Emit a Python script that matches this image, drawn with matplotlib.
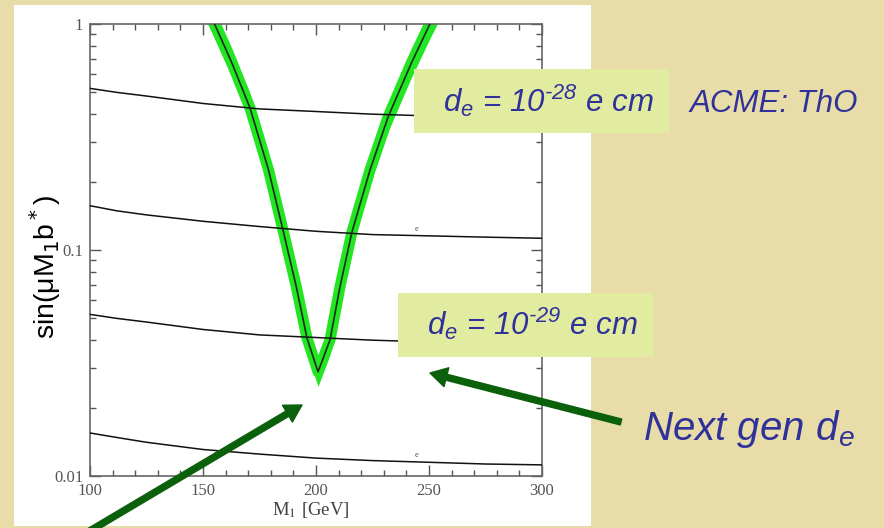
import matplotlib
matplotlib.use("Agg")
import matplotlib.pyplot as plt
from matplotlib.patches import Rectangle, FancyArrowPatch
from matplotlib.ticker import FixedLocator, MultipleLocator, NullFormatter
import numpy as np

plt.rcParams['mathtext.fontset'] = 'custom'
plt.rcParams['mathtext.rm'] = 'Liberation Sans:italic'
plt.rcParams['mathtext.it'] = 'Liberation Sans:italic'

# contour lines of constant d_e
m_grid = [100, 112, 125, 150, 175, 200, 225, 250, 275, 300]
line_a = [0.519, 0.498, 0.480, 0.445, 0.421, 0.410, 0.399, 0.392, 0.387, 0.383]
line_b = [0.157, 0.149, 0.143, 0.134, 0.127, 0.121, 0.117, 0.1155, 0.114, 0.1127]
line_c = [0.0519, 0.0498, 0.0480, 0.0445, 0.0421, 0.0410, 0.0399, 0.0392, 0.0387, 0.0383]
line_d = [0.0155, 0.0148, 0.0141, 0.0131, 0.0125, 0.0120, 0.0117, 0.0115, 0.0113, 0.0112]

# green V band (centre line)
band_m = [152.2, 155.3, 162.8, 170.8, 179.0, 185.4, 191.3, 196.0, 200.9,
          206.2, 210.6, 215.9, 223.9, 231.9, 242.2, 250.4, 253.5]
band_v = [1.153, 0.99, 0.672, 0.425, 0.226, 0.1225, 0.0686, 0.0408, 0.0289,
          0.040, 0.0686, 0.120, 0.226, 0.388, 0.672, 1.0, 1.153]
band_factor = 1.16

x_ticks = [100, 150, 200, 250, 300]
y_ticks = [0.01, 0.1, 1]
y_ticklabels = ['0.01', '0.1', '1']

BG = '#E8DDA8'
BOX = '#E1ECA0'
BLUE = '#30329A'
ARROW = '#0B600B'
GREEN = '#22E622'
GREY = '#555555'

W, H = 884, 528


def fx(px):
    return px / W


def fy(py):
    return 1 - py / H


fig = plt.figure(figsize=(8.84, 5.28), dpi=100, facecolor=BG)

# white slide panel
fig.add_artist(Rectangle((fx(14), fy(526)), (591 - 14) / W, (526 - 5) / H,
                         transform=fig.transFigure, facecolor='white',
                         edgecolor='none', zorder=0))

ax = fig.add_axes([fx(90), fy(476), 452 / W, 452 / H])
ax.set_facecolor('white')
ax.set_yscale('log')
ax.set_xlim(100, 300)
ax.set_ylim(0.01, 1)

bv = np.array(band_v)
ax.fill_between(band_m, bv / band_factor, bv * band_factor, color=GREEN,
                linewidth=0, zorder=2)
ax.plot(band_m, band_v, color=GREEN, linewidth=8, solid_joinstyle='round',
        solid_capstyle='round', zorder=2)
for vals in (line_a, line_b, line_c, line_d):
    ax.plot(m_grid, vals, color='#111111', linewidth=1.1, zorder=3)
ax.plot(band_m, band_v, color='#1a2a1a', linewidth=1.2, zorder=4)

for yv in (0.1185, 0.01185):
    ax.text(244.5, yv, 'e', fontsize=6, family='Liberation Serif',
            color='#444444', ha='center', va='bottom', zorder=5)

ax.xaxis.set_major_locator(FixedLocator(x_ticks))
ax.xaxis.set_minor_locator(MultipleLocator(10))
ax.yaxis.set_major_locator(FixedLocator(y_ticks))
ax.yaxis.set_minor_locator(FixedLocator(
    [k * 10.0 ** e for e in (-2, -1) for k in range(2, 10)]))
ax.yaxis.set_minor_formatter(NullFormatter())
ax.set_yticklabels(y_ticklabels)
ax.set_xticklabels([str(t) for t in x_ticks])

ax.tick_params(which='both', direction='in', top=True, right=True,
               color=GREY, labelcolor=GREY, labelsize=12, width=1.0)
ax.tick_params(which='major', length=8, pad=5)
ax.tick_params(which='minor', length=4.5)
for lab in ax.get_xticklabels() + ax.get_yticklabels():
    lab.set_fontfamily('Liberation Serif')
for sp in ax.spines.values():
    sp.set_color('#666666')
    sp.set_linewidth(1.2)

# axis titles
fig.text(fx(311), fy(515), 'M$_1$ [GeV]', family='Liberation Serif',
         math_fontfamily='stix', fontsize=13.5, color='#444444',
         ha='center', va='baseline')
fig.text(fx(45), fy(267), r'sin(μM$_1$b$^*$)', family='Liberation Sans',
         math_fontfamily='dejavusans', fontsize=20.5, color='black',
         rotation=90, ha='center', va='center')

# callout boxes
fig.add_artist(Rectangle((fx(414), fy(133)), (669 - 414) / W, (133 - 69) / H,
                         transform=fig.transFigure, facecolor=BOX,
                         edgecolor='none', zorder=4))
fig.add_artist(Rectangle((fx(398), fy(357)), (654 - 398) / W, (357 - 293) / H,
                         transform=fig.transFigure, facecolor=BOX,
                         edgecolor='none', zorder=4))

fig.text(fx(443), fy(112), r'd$_e$ = 10$^{\text{-28}}$ e cm',
         family='Liberation Sans', style='italic', fontsize=22.5, color=BLUE,
         ha='left', va='baseline', zorder=5)
fig.text(fx(690), fy(112), 'ACME: ThO', family='Liberation Sans',
         style='italic', fontsize=22.5, color=BLUE, ha='left', va='baseline',
         zorder=5)
fig.text(fx(427), fy(335), r'd$_e$ = 10$^{\text{-29}}$ e cm',
         family='Liberation Sans', style='italic', fontsize=22.5, color=BLUE,
         ha='left', va='baseline', zorder=5)
fig.text(fx(643), fy(440), r'Next gen d$_e$', family='Liberation Sans',
         style='italic', fontsize=29, color=BLUE, ha='left', va='baseline',
         zorder=5)

# arrows
style = 'simple,head_length=0.87,head_width=1.0,tail_width=0.31'
fig.add_artist(FancyArrowPatch((fx(621), fy(422)), (fx(430), fy(373)),
                               transform=fig.transFigure, arrowstyle=style,
                               mutation_scale=14, color=ARROW,
                               shrinkA=0, shrinkB=0, zorder=6))
fig.add_artist(FancyArrowPatch((fx(66), fy(545)), (fx(302), fy(405)),
                               transform=fig.transFigure, arrowstyle=style,
                               mutation_scale=14, color=ARROW,
                               shrinkA=0, shrinkB=0, zorder=6))

fig.savefig('out.png', dpi=100, facecolor=BG)
